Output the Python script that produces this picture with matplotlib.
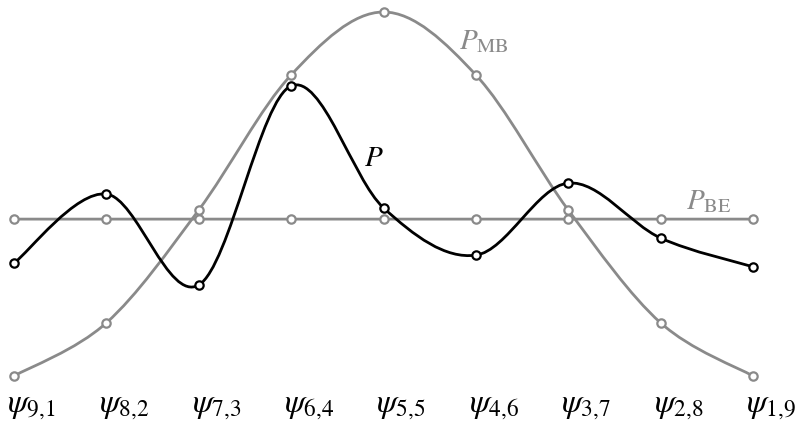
import numpy as np
import matplotlib

matplotlib.use("Agg")

import matplotlib.pyplot as plt
import matplotlib.transforms as mtransforms
from matplotlib.path import Path
from matplotlib.patches import PathPatch

plt.rcParams["mathtext.fontset"] = "stix"

states = [r"$\psi_{9{,}1}$", r"$\psi_{8{,}2}$", r"$\psi_{7{,}3}$", r"$\psi_{6{,}4}$", r"$\psi_{5{,}5}$",
          r"$\psi_{4{,}6}$", r"$\psi_{3{,}7}$", r"$\psi_{2{,}8}$", r"$\psi_{1{,}9}$"]
p_mb = [0.0, 0.146, 0.456, 0.827, 1.0, 0.827, 0.456, 0.146, 0.0]
p_be = [0.431] * 9
p = [0.31, 0.50, 0.25, 0.797, 0.462, 0.332, 0.53, 0.379, 0.30]

GRAY = "#8a8a8a"


def smooth_path(xs, ys):
    # catmull-rom drawn as cubic bezier segments
    pts = np.column_stack([xs, ys]).astype(float)
    n = len(pts)
    verts = [pts[0]]
    codes = [Path.MOVETO]
    for i in range(n - 1):
        p0 = pts[max(i - 1, 0)]
        p1 = pts[i]
        p2 = pts[i + 1]
        p3 = pts[min(i + 2, n - 1)]
        c1 = p1 + (p2 - p0) / 6
        c2 = p2 - (p3 - p1) / 6
        verts += [c1, c2, p2]
        codes += [Path.CURVE4] * 3
    return Path(verts, codes)


fig = plt.figure(figsize=(7.95, 4.24), dpi=100)
ax = fig.add_axes([14 / 795, 48 / 424, 739 / 795, 364 / 424])
x = np.arange(len(states))

for ys, col, z in [(p_mb, GRAY, 1), (p_be, GRAY, 2), (p, "black", 3)]:
    ax.add_patch(PathPatch(smooth_path(x, ys), fill=False, edgecolor=col,
                           lw=2.0, zorder=z, clip_on=False))
    ax.plot(x, ys, "o", mfc="white", mec=col, mew=1.6, ms=6, zorder=z + 0.5, clip_on=False)

ax.text(4.82, 0.92, r"$P_{\mathrm{MB}}$", color=GRAY, fontsize=21, ha="left", va="center")
ax.text(7.28, 0.48, r"$P_{\mathrm{BE}}$", color=GRAY, fontsize=21, ha="left", va="center")
ax.text(3.9, 0.60, r"$P$", color="black", fontsize=21, ha="center", va="center")

ax.set_xlim(0, 8)
ax.set_ylim(0, 1)
ax.set_xticks(x)
ax.set_xticklabels(states, fontsize=24)
ax.tick_params(axis="x", length=0, pad=9)
shift = mtransforms.ScaledTranslation(-7 / 100, 0, fig.dpi_scale_trans)
for lbl in ax.get_xticklabels():
    lbl.set_horizontalalignment("left")
    lbl.set_transform(lbl.get_transform() + shift)
ax.set_yticks([])
for s in ax.spines.values():
    s.set_visible(False)

fig.savefig("out.png", dpi=100)
